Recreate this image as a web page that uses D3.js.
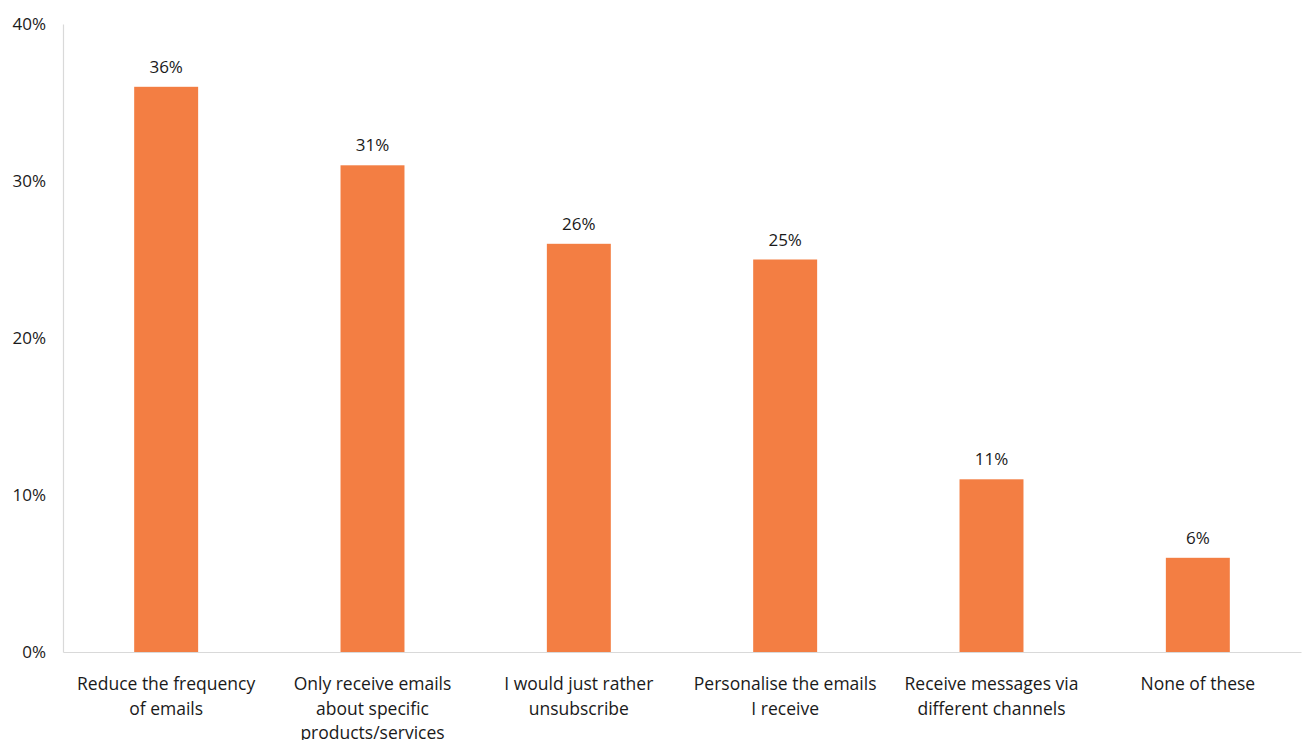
<!DOCTYPE html>
<html>
<head>
<meta charset="utf-8">
<script src="https://cdn.jsdelivr.net/npm/d3@7/dist/d3.min.js"></script>
<style>
  html, body { margin: 0; padding: 0; background: #fff; }
  svg text { font-family: "Open Sans", "Noto Sans", sans-serif; fill: #1a1a1a; }
</style>
</head>
<body>
<svg id="chart" width="1306" height="740"></svg>
<script>
// Survey responses: what people would do about too many emails
const categories = [
  "Reduce the frequency\nof emails",
  "Only receive emails\nabout specific\nproducts/services",
  "I would just rather\nunsubscribe",
  "Personalise the emails\nI receive",
  "Receive messages via\ndifferent channels",
  "None of these"
];
const values = [36, 31, 26, 25, 11, 6];
const yTicks = [0, 10, 20, 30, 40];

const svg = d3.select("#chart");
const margin = { left: 63, right: 5, top: 24, bottom: 88 };
const W = 1306, H = 740;

const x = d3.scaleBand()
  .domain(categories)
  .range([margin.left, W - margin.right])
  .paddingInner(0.69)
  .paddingOuter(0.345);

const y = d3.scaleLinear()
  .domain([0, 40])
  .range([H - margin.bottom, margin.top]);

const axisColor = "#d9d9d9";

// Y axis: line + labels, no tick marks
const yAxis = d3.axisLeft(y)
  .tickValues(yTicks)
  .tickFormat(d => d + "%")
  .tickSize(0)
  .tickPadding(17);

const gy = svg.append("g")
  .attr("transform", `translate(${margin.left},0)`)
  .call(yAxis);
gy.select(".domain").attr("stroke", axisColor).attr("stroke-width", 1.2);
gy.selectAll("text")
  .attr("font-size", 17)
  .style("font-family", "'Open Sans', sans-serif")
  .attr("fill", "#1a1a1a");

// Bars
svg.append("g").selectAll("rect")
  .data(values)
  .join("rect")
  .attr("x", (d, i) => x(categories[i]))
  .attr("y", d => y(d))
  .attr("width", x.bandwidth())
  .attr("height", d => y(0) - y(d))
  .attr("fill", "#f37e43");

// Value labels
svg.append("g").selectAll("text")
  .data(values)
  .join("text")
  .attr("x", (d, i) => x(categories[i]) + x.bandwidth() / 2)
  .attr("y", d => y(d) - 14)
  .attr("text-anchor", "middle")
  .attr("font-size", 17)
  .text(d => d + "%");

// X axis
const xAxis = d3.axisBottom(x).tickSize(0).tickFormat("");
const gx = svg.append("g")
  .attr("transform", `translate(0,${y(0)})`)
  .call(xAxis);
gx.select(".domain").attr("stroke", axisColor).attr("stroke-width", 1.2);

// Category labels, multi-line
const catG = svg.append("g");
categories.forEach(c => {
  const lines = c.split("\n");
  const t = catG.append("text")
    .attr("x", x(c) + x.bandwidth() / 2)
    .attr("y", y(0) + 38)
    .attr("text-anchor", "middle")
    .attr("font-size", 17.5);
  lines.forEach((ln, j) => {
    t.append("tspan")
      .attr("x", x(c) + x.bandwidth() / 2)
      .attr("dy", j === 0 ? 0 : 24.5)
      .text(ln);
  });
});
</script>
</body>
</html>
